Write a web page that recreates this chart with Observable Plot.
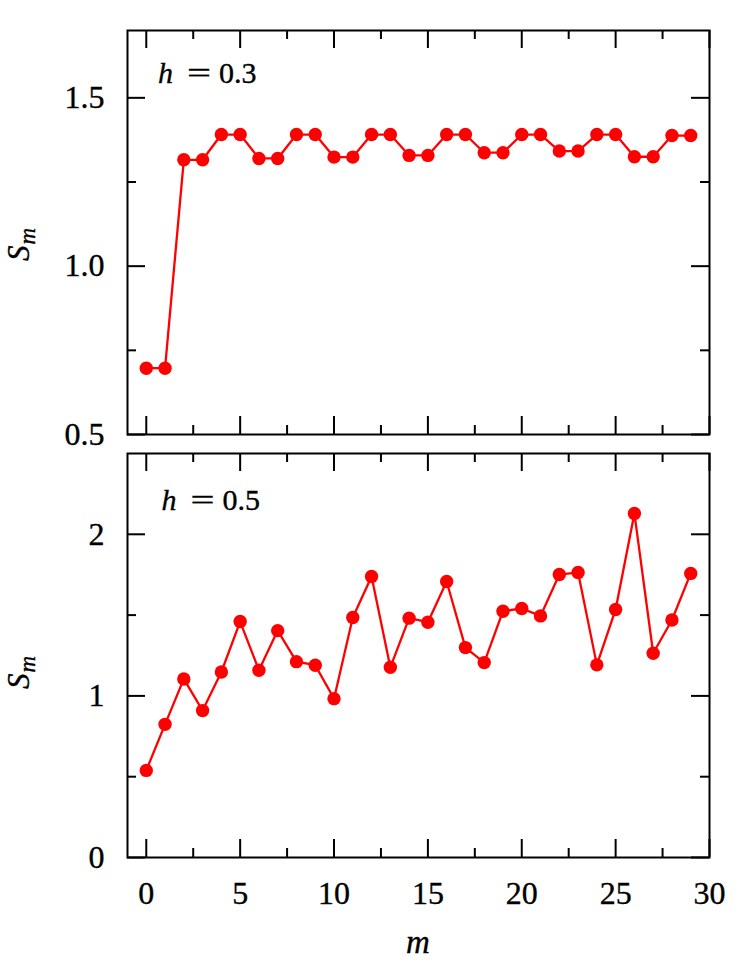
<!DOCTYPE html>
<html><head><meta charset="utf-8">
<script src="https://cdn.jsdelivr.net/npm/d3@7"></script>
<script src="https://cdn.jsdelivr.net/npm/@observablehq/plot@0.6"></script>
<style>
body{margin:0;background:#fff}
#c{position:relative;width:747px;height:974px;font-family:'Liberation Serif',serif;color:#000}
#c svg text{font-family:'Liberation Serif',serif;stroke:#000;stroke-width:0.35px}
.wrap{position:absolute;left:0}
#ov{position:absolute;left:0;top:0;pointer-events:none;overflow:visible}
</style></head><body><div id="c"></div>
<script>
// ---- data ----
const m = [0,1,2,3,4,5,6,7,8,9,10,11,12,13,14,15,16,17,18,19,20,21,22,23,24,25,26,27,28,29];
const sTop = [0.697,0.697,1.316,1.316,1.391,1.391,1.320,1.320,1.391,1.391,1.324,1.324,1.391,1.391,1.329,1.329,1.391,1.391,1.337,1.337,1.391,1.391,1.342,1.342,1.391,1.391,1.325,1.325,1.388,1.388];
const sBottom = [0.539,0.824,1.105,0.909,1.148,1.460,1.159,1.404,1.212,1.190,0.983,1.485,1.739,1.177,1.481,1.456,1.708,1.299,1.206,1.524,1.541,1.495,1.751,1.764,1.192,1.535,2.129,1.264,1.470,1.758];
const xTicks = [0,5,10,15,20,25,30];
const xMinor = [2.5,7.5,12.5,17.5,22.5,27.5];
const yTopTicks = [0.5,1.0,1.5];
const yTopMinor = [0.75,1.25];
const yBotTicks = [0,1,2];
const yBotMinor = [0.5,1.5];
const hValues = ["0.3", "0.5"];
const panels = [
  {label:hValues[0], values:sTop, yDomain:[0.5,1.7], ticks:yTopTicks, minor:yTopMinor, fmt:d=>d.toFixed(1)},
  {label:hValues[1], values:sBottom, yDomain:[0,2.5], ticks:yBotTicks, minor:yBotMinor, fmt:d=>String(d)}
];

// ---- layout ----
const FONT = "Liberation Serif";
const W = 747, H = 974, mL = 127, mR = 38;
const innerW = W - mL - mR;
const layouts = [
  {top:0, height:450, marginTop:30, marginBottom:16, xLabels:false, annX:158, annY:83.3, ylabY:261},
  {top:440, height:534, marginTop:13, marginBottom:117, xLabels:true, annX:161.5, annY:510, ylabY:689}
];
const MAJ = 18, MIN = 9;
const c = document.getElementById("c");

panels.forEach((p, i) => {
  const L = layouts[i];
  const innerH = L.height - L.marginTop - L.marginBottom;
  const data = m.map((v, j) => ({m: v, s: p.values[j]}));
  const tickStyle = {stroke:"#000", strokeWidth:2};
  const marks = [
    Plot.ruleX(xTicks, {x:d=>d, insetTop: innerH - MAJ, ...tickStyle}),
    Plot.ruleX(xTicks, {x:d=>d, insetBottom: innerH - MAJ, ...tickStyle}),
    Plot.ruleX(xMinor, {x:d=>d, insetTop: innerH - MIN, ...tickStyle}),
    Plot.ruleX(xMinor, {x:d=>d, insetBottom: innerH - MIN, ...tickStyle}),
    Plot.ruleY(p.ticks, {y:d=>d, insetRight: innerW - MAJ, ...tickStyle}),
    Plot.ruleY(p.ticks, {y:d=>d, insetLeft: innerW - MAJ, ...tickStyle}),
    Plot.ruleY(p.minor, {y:d=>d, insetRight: innerW - MIN, ...tickStyle}),
    Plot.ruleY(p.minor, {y:d=>d, insetLeft: innerW - MIN, ...tickStyle}),
    Plot.line(data, {x:"m", y:"s", stroke:"#ff0000", strokeWidth:2.3}),
    Plot.dot(data, {x:"m", y:"s", r:6.7, fill:"#ff0000", stroke:"none"}),
    Plot.axisY({ticks:p.ticks, tickFormat:p.fmt, tickSize:0, tickPadding:23, label:null, fill:"#000", fontFamily:FONT, fontSize:32}),
    Plot.frame({stroke:"#000", strokeWidth:2})
  ];
  if (L.xLabels) marks.push(Plot.axisX({ticks:xTicks, tickSize:0, tickPadding:24, label:null, fill:"#000", fontFamily:FONT, fontSize:32}));
  else marks.push(Plot.axisX({ticks:[], label:null}));
  const svg = Plot.plot({
    width: W, height: L.height,
    marginLeft: mL, marginRight: mR, marginTop: L.marginTop, marginBottom: L.marginBottom,
    x: {domain:[-1,30]},
    y: {domain:p.yDomain},
    style: {fontFamily:FONT, fontSize:"32px", color:"#000", background:"transparent", overflow:"visible"},
    marks
  });
  const wrap = document.createElement("div");
  wrap.className = "wrap";
  wrap.style.top = L.top + "px";
  wrap.appendChild(svg);
  c.appendChild(wrap);
});

// ---- text overlay (annotations and axis titles) ----
const ov = d3.select(c).append("svg").attr("id","ov").attr("width",W).attr("height",H);
panels.forEach((p, i) => {
  const L = layouts[i];
  const g = ov.append("g").attr("font-size", 30);
  g.append("text").attr("x", L.annX).attr("y", L.annY).attr("font-style","italic").text("h");
  g.append("text").attr("transform", `translate(${L.annX + 29},${L.annY}) scale(1.42,1)`).text("=");
  g.append("text").attr("x", L.annX + 61).attr("y", L.annY).text(p.label);
  const yl = ov.append("text").attr("transform", `translate(29,${L.ylabY}) rotate(-90)`).attr("font-style","italic");
  yl.append("tspan").attr("font-size", 31).text("S");
  yl.append("tspan").attr("font-size", 23).attr("dy", 6).attr("dx", 1).text("m");
});
ov.append("text").attr("x", 418).attr("y", 953).attr("text-anchor","middle").attr("font-size", 33).attr("font-style","italic").text("m");
</script></body></html>
